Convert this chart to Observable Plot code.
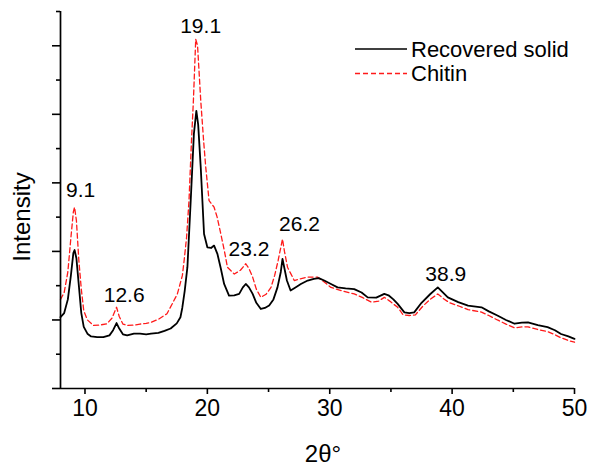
<!DOCTYPE html>
<html>
<head>
<meta charset="utf-8">
<script src="https://cdn.jsdelivr.net/npm/d3@7"></script>
<script src="https://cdn.jsdelivr.net/npm/@observablehq/plot@0.6"></script>
<style>
  html, body { margin: 0; padding: 0; background: white; }
</style>
</head>
<body>
<div id="chart"></div>
<script>
// ---- Data ----
const seriesNames = ["Recovered solid", "Chitin"];

const recoveredX = [8.0,8.3,8.6,8.85,9.05,9.15,9.3,9.5,9.7,9.9,10.2,10.5,11.0,11.5,12.0,12.3,12.58,12.8,13.1,13.45,14.0,14.5,15.0,15.4,16.0,16.5,17.0,17.5,17.8,17.95,18.15,18.37,18.64,18.9,19.1,19.25,19.46,19.73,20.0,20.3,20.55,20.82,21.1,21.37,21.77,22.2,22.6,22.9,23.14,23.4,23.7,24.0,24.37,24.7,25.05,25.4,25.73,26.0,26.14,26.3,26.5,26.8,27.2,27.64,28.2,28.7,29.1,29.55,30.1,30.64,31.3,32.0,32.6,33.1,33.8,34.46,34.8,35.2,35.55,36.1,36.5,36.9,37.5,38.2,38.83,39.2,39.65,40.5,41.3,42.4,43.0,43.7,44.4,45.1,45.7,46.2,47.0,47.8,48.4,48.9,49.5,50.0];
const recoveredY = [2.08,2.2,2.6,3.3,3.95,4.04,3.8,3.0,2.2,1.8,1.6,1.52,1.5,1.5,1.55,1.7,1.91,1.75,1.58,1.55,1.6,1.6,1.58,1.6,1.62,1.68,1.75,1.9,2.08,2.35,2.85,3.54,5.48,7.43,8.1,7.7,6.45,4.51,4.12,4.1,4.17,3.93,3.5,3.05,2.71,2.72,2.76,2.95,3.05,2.95,2.76,2.5,2.32,2.35,2.42,2.6,2.95,3.4,3.78,3.5,3.15,2.86,2.95,3.05,3.15,3.2,3.22,3.15,3.05,2.95,2.92,2.9,2.8,2.66,2.65,2.76,2.72,2.6,2.47,2.22,2.2,2.22,2.5,2.75,2.95,2.82,2.66,2.52,2.42,2.37,2.25,2.13,2.0,1.89,1.92,1.93,1.85,1.79,1.7,1.59,1.52,1.45];

const chitinX = [8.0,8.3,8.6,8.85,9.05,9.15,9.3,9.5,9.7,9.9,10.2,10.7,11.2,11.8,12.2,12.58,12.8,13.1,13.45,14.0,14.5,15.0,15.4,16.0,16.7,17.1,17.55,17.96,18.1,18.3,18.5,18.7,18.86,19.05,19.2,19.46,19.7,19.87,20.14,20.55,20.8,21.1,21.4,21.64,22.2,22.7,23.14,23.4,23.7,24.0,24.37,24.8,25.2,25.5,25.78,26.14,26.3,26.55,27.1,27.6,28.2,29.0,29.5,30.1,31.0,32.0,32.7,33.4,34.0,34.46,34.9,35.55,36.0,36.5,37.0,37.6,38.2,38.83,39.3,39.8,40.6,41.3,42.4,43.0,43.7,44.4,45.1,45.8,46.2,47.0,47.8,48.4,48.9,49.5,50.0];
const chitinY = [2.6,2.8,3.4,4.4,5.15,5.29,4.9,3.73,2.9,2.27,2.0,1.84,1.85,1.89,2.05,2.37,2.1,1.88,1.84,1.85,1.88,1.9,1.93,2.02,2.18,2.45,2.76,3.3,3.73,4.4,5.48,7.2,8.4,10.19,10.0,8.4,7.2,6.45,5.48,5.29,5.0,4.51,4.0,3.54,3.34,3.45,3.64,3.5,3.25,2.9,2.66,2.75,2.95,3.3,3.73,4.36,4.0,3.54,3.15,3.2,3.25,3.25,3.12,2.95,2.85,2.76,2.65,2.52,2.55,2.66,2.55,2.37,2.15,2.13,2.15,2.4,2.6,2.76,2.62,2.5,2.4,2.3,2.23,2.13,2.0,1.88,1.77,1.8,1.8,1.72,1.66,1.57,1.48,1.4,1.35];

const peakLabels = ["9.1", "12.6", "19.1", "23.2", "26.2", "38.9"];
const peakLabelX = [9.64, 13.2, 19.45, 23.4, 27.53, 39.48];
const peakLabelY = [5.77, 2.72, 10.58, 4.07, 4.8, 3.34];

const xMajorTicks = [10, 20, 30, 40, 50];
const xMinorTicks = [15, 25, 35, 45];
const yMajorTicks = [0, 2, 4, 6, 8, 10];
const yMinorTicks = [1, 3, 5, 7, 9, 11];

const xLabel = "2θ°";
const yLabel = "Intensity";

// ---- Build tables ----
const recovered = recoveredX.map((x, i) => ({x, y: recoveredY[i]}));
const chitin = chitinX.map((x, i) => ({x, y: chitinY[i]}));
const peaks = peakLabels.map((t, i) => ({t, x: peakLabelX[i], y: peakLabelY[i]}));

const W = 590, H = 466;
const mL = 60, mR = 16, mT = 11, mB = 78;
const FONT = "'Liberation Sans', Arial, Helvetica, sans-serif";
const RED = "#ff1a1a";

const svg = Plot.plot({
  width: W,
  height: H,
  marginLeft: mL,
  marginRight: mR,
  marginTop: mT,
  marginBottom: mB,
  style: {fontFamily: FONT, background: "white", color: "black", overflow: "visible"},
  x: {domain: [8, 50]},
  y: {domain: [0, 11]},
  marks: [
    Plot.line(chitin, {x: "x", y: "y", stroke: RED, strokeWidth: 1.3, strokeDasharray: "5,3"}),
    Plot.line(recovered, {x: "x", y: "y", stroke: "black", strokeWidth: 1.8}),
    Plot.ruleX([8], {stroke: "black", strokeWidth: 1.7}),
    Plot.ruleY([0], {stroke: "black", strokeWidth: 1.7}),
    Plot.axisX({ticks: xMajorTicks, tickSize: 6, tickPadding: 5, fontSize: 23, label: null, strokeWidth: 1.6}),
    Plot.axisX({ticks: xMinorTicks, tickSize: 4, tickFormat: () => "", label: null, strokeWidth: 1.6}),
    Plot.axisY({ticks: yMajorTicks, tickSize: 8, tickFormat: () => "", label: null, strokeWidth: 1.6}),
    Plot.axisY({ticks: yMinorTicks, tickSize: 4, tickFormat: () => "", label: null, strokeWidth: 1.6}),
    Plot.text(peaks, {x: "x", y: "y", text: "t", fontSize: 21, fill: "black", textAnchor: "middle", lineAnchor: "middle"})
  ]
});

const root = d3.select(svg);

// ---- Axis titles ----
root.append("text")
  .attr("x", 323).attr("y", 454)
  .attr("dy", "0.35em")
  .attr("text-anchor", "middle")
  .attr("font-family", FONT).attr("font-size", 24)
  .attr("fill", "black")
  .text(xLabel);

root.append("text")
  .attr("transform", "translate(22,217) rotate(-90)")
  .attr("dy", "0.35em")
  .attr("text-anchor", "middle")
  .attr("font-family", FONT).attr("font-size", 24)
  .attr("fill", "black")
  .text(yLabel);

// ---- Legend (inside the frame, top right) ----
const g = root.append("g")
  .attr("font-family", FONT).attr("font-size", 22)
  .attr("text-anchor", "start");
const legendItems = [
  {name: seriesNames[0], stroke: "black", dash: null, width: 1.6, y: 49},
  {name: seriesNames[1], stroke: RED, dash: "5,3", width: 1.3, y: 73.5}
];
legendItems.forEach(d => {
  g.append("line")
    .attr("x1", 355).attr("x2", 407)
    .attr("y1", d.y).attr("y2", d.y)
    .attr("stroke", d.stroke)
    .attr("stroke-width", d.width)
    .attr("stroke-dasharray", d.dash);
  g.append("text")
    .attr("x", 411).attr("y", d.y)
    .attr("dy", "0.35em")
    .attr("text-anchor", "start")
    .attr("fill", "black")
    .text(d.name);
});

document.getElementById("chart").appendChild(svg);
</script>
</body>
</html>
